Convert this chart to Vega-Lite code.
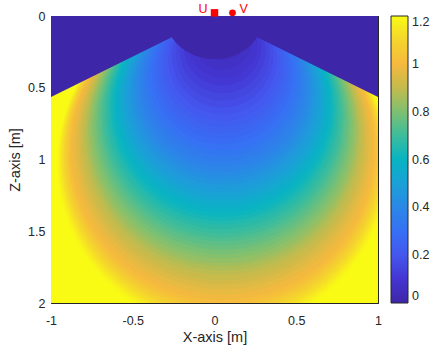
{
  "$schema": "https://vega.github.io/schema/vega-lite/v6.json",
  "width": 327,
  "height": 287,
  "autosize": {"type": "none"},
  "padding": {"left": 51, "top": 16, "right": 52, "bottom": 44},
  "background": "white",
  "config": {
    "view": {"stroke": null},
    "axis": {"labelFont": "Liberation Sans", "labelFontSize": 12.5, "labelColor": "#262626", "titleFont": "Liberation Sans", "titleFontSize": 14.5, "titleFontWeight": "normal", "titleColor": "#262626", "domainColor": "#262626", "domainWidth": 1, "tickColor": "#262626", "tickWidth": 1, "tickSize": -4, "grid": false, "zindex": 1, "labelFlush": false, "labelOverlap": false},
    "legend": {"labelFont": "Liberation Sans", "labelFontSize": 12.5, "labelColor": "#262626"},
    "text": {"font": "Liberation Sans"}
  },
  "datasets": {
    "sensors": [
      {"name": "U", "x": 0, "z": -0.022},
      {"name": "V", "x": 0.11, "z": -0.022}
    ]
  },
  "layer": [
    {
      "data": {"values": [{"x0": -1, "x1": 1, "z0": 0, "z1": 2, "v": 1.2}]},
      "mark": {"type": "rect", "clip": true},
      "encoding": {
        "x": {"field": "x0", "type": "quantitative", "scale": {"domain": [-1, 1], "nice": false, "zero": false}, "axis": {"orient": "bottom", "values": [-1, -0.5, 0, 0.5, 1], "labelExpr": "''+datum.value", "labelPadding": 15, "title": "X-axis [m]", "titleY": 38.5, "titleBaseline": "alphabetic"}},
        "x2": {"field": "x1"},
        "y": {"field": "z0", "type": "quantitative", "scale": {"domain": [0, 2], "nice": false, "zero": false, "reverse": true}, "axis": {"orient": "left", "values": [0, 0.5, 1, 1.5, 2], "labelExpr": "''+datum.value", "labelPadding": 10, "title": "Z-axis [m]", "titleX": -31.5, "titleY": 143.5, "titleAngle": -90, "titleBaseline": "alphabetic", "titleAlign": "center"}},
        "y2": {"field": "z1"},
        "color": {"field": "v", "type": "quantitative",
          "scale": {"type": "linear", "domain": [0, 0.1, 0.2, 0.3, 0.4, 0.5, 0.6, 0.7, 0.8, 0.9, 1, 1.1, 1.2], "range": ["#3e26a8", "#4435d1", "#4456ee", "#3770f4", "#2a88e6", "#1aa1d6", "#08b4c2", "#3cbd9c", "#7ec071", "#c4bb4c", "#f6b93e", "#f4d52d", "#f9fb15"], "interpolate": "rgb", "clamp": true},
          "legend": {"orient": "none", "legendX": 340, "legendY": 0, "direction": "vertical", "gradientLength": 287, "gradientThickness": 17, "title": null, "values": [0, 0.2, 0.4, 0.6, 0.8, 1, 1.2], "labelExpr": "''+datum.value", "labelOffset": 4, "labelOverlap": false, "labelBaseline": "middle", "gradientStrokeColor": "#262626", "gradientStrokeWidth": 1, "padding": 0, "offset": 0}}
      }
    },
    {
      "data": {"values": [
        {"v": 1.19, "B": 1.155, "c": 1.025},
        {"v": 1.17, "B": 1.145, "c": 1.015},
        {"v": 1.15, "B": 1.135, "c": 1.005},
        {"v": 1.13, "B": 1.125, "c": 0.995},
        {"v": 1.11, "B": 1.115, "c": 0.985},
        {"v": 1.09, "B": 1.105, "c": 0.975},
        {"v": 1.07, "B": 1.095, "c": 0.965},
        {"v": 1.05, "B": 1.085, "c": 0.955},
        {"v": 1.03, "B": 1.075, "c": 0.945},
        {"v": 1.01, "B": 1.065, "c": 0.935},
        {"v": 0.99, "B": 1.055, "c": 0.925},
        {"v": 0.97, "B": 1.035, "c": 0.905},
        {"v": 0.95, "B": 1.0175, "c": 0.8875},
        {"v": 0.93, "B": 1.0, "c": 0.87},
        {"v": 0.91, "B": 0.985, "c": 0.855},
        {"v": 0.89, "B": 0.9675, "c": 0.8375},
        {"v": 0.87, "B": 0.9525, "c": 0.8225},
        {"v": 0.85, "B": 0.9375, "c": 0.8075},
        {"v": 0.83, "B": 0.925, "c": 0.795},
        {"v": 0.81, "B": 0.91, "c": 0.78},
        {"v": 0.79, "B": 0.895, "c": 0.765},
        {"v": 0.77, "B": 0.88, "c": 0.75},
        {"v": 0.75, "B": 0.865, "c": 0.735},
        {"v": 0.73, "B": 0.85, "c": 0.72},
        {"v": 0.71, "B": 0.8375, "c": 0.7075},
        {"v": 0.69, "B": 0.8225, "c": 0.6925},
        {"v": 0.67, "B": 0.8075, "c": 0.6775},
        {"v": 0.65, "B": 0.7925, "c": 0.6625},
        {"v": 0.63, "B": 0.78, "c": 0.65},
        {"v": 0.61, "B": 0.765, "c": 0.635},
        {"v": 0.59, "B": 0.75, "c": 0.62},
        {"v": 0.57, "B": 0.736, "c": 0.609},
        {"v": 0.55, "B": 0.7195, "c": 0.5955},
        {"v": 0.53, "B": 0.7055, "c": 0.5845},
        {"v": 0.51, "B": 0.6915, "c": 0.5735},
        {"v": 0.49, "B": 0.675, "c": 0.56},
        {"v": 0.47, "B": 0.6585, "c": 0.5465},
        {"v": 0.45, "B": 0.642, "c": 0.533},
        {"v": 0.43, "B": 0.6255, "c": 0.5195},
        {"v": 0.41, "B": 0.609, "c": 0.506},
        {"v": 0.39, "B": 0.593, "c": 0.493},
        {"v": 0.37, "B": 0.573, "c": 0.476},
        {"v": 0.35, "B": 0.553, "c": 0.459},
        {"v": 0.33, "B": 0.5325, "c": 0.4415},
        {"v": 0.31, "B": 0.512, "c": 0.424},
        {"v": 0.29, "B": 0.4905, "c": 0.4055},
        {"v": 0.27, "B": 0.469, "c": 0.387},
        {"v": 0.25, "B": 0.447, "c": 0.368},
        {"v": 0.23, "B": 0.424, "c": 0.348},
        {"v": 0.21, "B": 0.401, "c": 0.328},
        {"v": 0.19, "B": 0.377, "c": 0.307},
        {"v": 0.17, "B": 0.3525, "c": 0.2855},
        {"v": 0.15, "B": 0.3265, "c": 0.2625},
        {"v": 0.13, "B": 0.3, "c": 0.239},
        {"v": 0.11, "B": 0.272, "c": 0.214},
        {"v": 0.09, "B": 0.243, "c": 0.188},
        {"v": 0.07, "B": 0.2115, "c": 0.1595},
        {"v": 0.05, "B": 0.178, "c": 0.129},
        {"v": 0.03, "B": 0.14, "c": 0.094},
        {"v": 0.01, "B": 0.095, "c": 0.052}
      ]},
      "mark": {"type": "point", "shape": "circle", "filled": true, "opacity": 1, "strokeWidth": 0, "clip": true},
      "encoding": {
        "x": {"datum": 0.05, "type": "quantitative", "scale": {"domain": [-1, 1], "nice": false, "zero": false}, "axis": null},
        "y": {"field": "c", "type": "quantitative", "scale": {"domain": [0, 2], "nice": false, "zero": false, "reverse": true}, "axis": null},
        "size": {"field": "B", "type": "quantitative", "scale": {"type": "pow", "exponent": 2, "domain": [0, 1], "range": [0, 82369]}, "legend": null},
        "color": {"field": "v", "type": "quantitative",
          "scale": {"type": "linear", "domain": [0, 0.1, 0.2, 0.3, 0.4, 0.5, 0.6, 0.7, 0.8, 0.9, 1, 1.1, 1.2], "range": ["#3e26a8", "#4435d1", "#4456ee", "#3770f4", "#2a88e6", "#1aa1d6", "#08b4c2", "#3cbd9c", "#7ec071", "#c4bb4c", "#f6b93e", "#f4d52d", "#f9fb15"], "interpolate": "rgb", "clamp": true},
          "legend": {"orient": "none", "legendX": 340, "legendY": 0, "direction": "vertical", "gradientLength": 287, "gradientThickness": 17, "title": null, "values": [0, 0.2, 0.4, 0.6, 0.8, 1, 1.2], "labelExpr": "''+datum.value", "labelOffset": 4, "labelOverlap": false, "labelBaseline": "middle", "gradientStrokeColor": "#262626", "gradientStrokeWidth": 1, "padding": 0, "offset": 0}},
        "order": {"field": "B", "sort": "descending"}
      }
    },
    {
      "data": {"values": [
        {"x": -1, "zb": 0.565},
        {"x": -0.261, "zb": 0.148},
        {"x": -0.255, "zb": 0.158},
        {"x": -0.245, "zb": 0.173},
        {"x": -0.23, "zb": 0.193},
        {"x": -0.21, "zb": 0.214},
        {"x": -0.18, "zb": 0.24},
        {"x": -0.15, "zb": 0.26},
        {"x": -0.12, "zb": 0.275},
        {"x": -0.09, "zb": 0.286},
        {"x": -0.06, "zb": 0.294},
        {"x": -0.03, "zb": 0.298},
        {"x": 0, "zb": 0.3},
        {"x": 0.03, "zb": 0.298},
        {"x": 0.06, "zb": 0.294},
        {"x": 0.09, "zb": 0.286},
        {"x": 0.12, "zb": 0.275},
        {"x": 0.15, "zb": 0.26},
        {"x": 0.18, "zb": 0.24},
        {"x": 0.21, "zb": 0.214},
        {"x": 0.23, "zb": 0.193},
        {"x": 0.245, "zb": 0.173},
        {"x": 0.255, "zb": 0.158},
        {"x": 0.261, "zb": 0.148},
        {"x": 1, "zb": 0.565}
      ]},
      "mark": {"type": "area", "color": "#3e26a8", "clip": true, "interpolate": "linear"},
      "encoding": {
        "x": {"field": "x", "type": "quantitative", "scale": {"domain": [-1, 1], "nice": false, "zero": false}, "axis": {"orient": "top", "values": [-1, -0.5, 0, 0.5, 1], "labels": false, "title": null}},
        "y": {"field": "zb", "type": "quantitative", "scale": {"domain": [0, 2], "nice": false, "zero": false, "reverse": true}, "axis": {"orient": "right", "values": [0, 0.5, 1, 1.5, 2], "labels": false, "title": null}},
        "y2": {"datum": 0}
      }
    },
    {
      "data": {"name": "sensors"},
      "transform": [{"filter": "datum.name == 'U'"}],
      "mark": {"type": "point", "shape": "square", "filled": true, "size": 56, "opacity": 1, "color": "#ff0000"},
      "encoding": {
        "x": {"field": "x", "type": "quantitative", "axis": null},
        "y": {"field": "z", "type": "quantitative", "axis": null}
      }
    },
    {
      "data": {"name": "sensors"},
      "transform": [{"filter": "datum.name == 'V'"}],
      "mark": {"type": "point", "shape": "circle", "filled": true, "size": 46, "opacity": 1, "color": "#ff0000"},
      "encoding": {
        "x": {"field": "x", "type": "quantitative", "axis": null},
        "y": {"field": "z", "type": "quantitative", "axis": null}
      }
    },
    {
      "data": {"name": "sensors"},
      "transform": [{"filter": "datum.name == 'U'"}],
      "mark": {"type": "text", "align": "right", "baseline": "middle", "dx": -7, "dy": -3.5, "fontSize": 12.5, "color": "#ff0000"},
      "encoding": {
        "x": {"field": "x", "type": "quantitative", "axis": null},
        "y": {"field": "z", "type": "quantitative", "axis": null},
        "text": {"field": "name"}
      }
    },
    {
      "data": {"name": "sensors"},
      "transform": [{"filter": "datum.name == 'V'"}],
      "mark": {"type": "text", "align": "left", "baseline": "middle", "dx": 7, "dy": -3.5, "fontSize": 12.5, "color": "#ff0000"},
      "encoding": {
        "x": {"field": "x", "type": "quantitative", "axis": null},
        "y": {"field": "z", "type": "quantitative", "axis": null},
        "text": {"field": "name"}
      }
    }
  ],
  "resolve": {"axis": {"x": "independent", "y": "independent"}}
}
